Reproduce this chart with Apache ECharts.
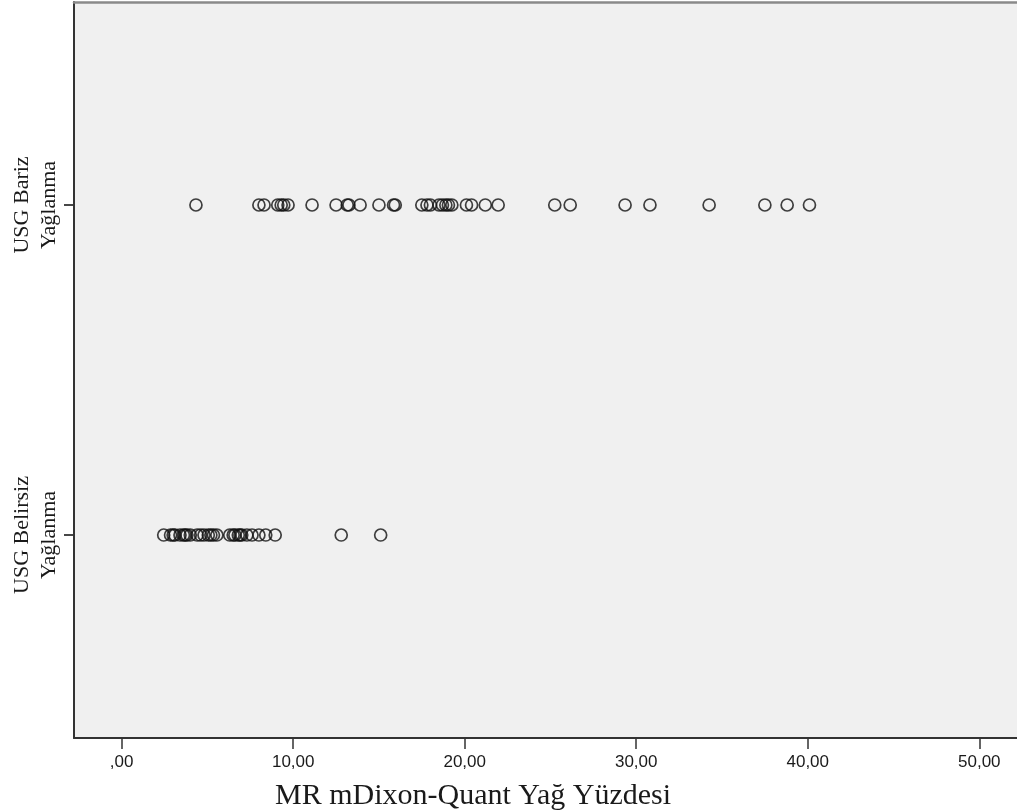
<!DOCTYPE html>
<html>
<head>
<meta charset="utf-8">
<script src="https://cdn.jsdelivr.net/npm/echarts@6/dist/echarts.min.js"></script>
<style>html,body{margin:0;padding:0;background:#fff;}#c{width:1017px;height:812px;}</style>
</head>
<body>
<div id="c"></div>
<script>
// Category labels (y axis)
const categories = ['USG Belirsiz\nYağlanma', 'USG Bariz\nYağlanma'];
// MR mDixon-Quant fat % for "USG Bariz Yağlanma"
const barizValues = [4.33, 8.0, 8.3, 9.1, 9.3, 9.45, 9.7, 11.1, 12.5, 13.15, 13.25, 13.9, 15.0, 15.85, 15.95,
  17.5, 17.8, 18.0, 18.5, 18.7, 18.9, 19.05, 19.25, 20.1, 20.4, 21.2, 21.95, 25.25, 26.15, 29.35, 30.8,
  34.25, 37.5, 38.8, 40.1];
// MR mDixon-Quant fat % for "USG Belirsiz Yağlanma"
const belirsizValues = [2.45, 2.85, 3.0, 3.1, 3.4, 3.6, 3.7, 3.8, 4.0, 4.4, 4.6, 4.8, 5.05, 5.2, 5.35, 5.55,
  6.3, 6.5, 6.6, 6.8, 6.9, 7.0, 7.3, 7.6, 8.0, 8.4, 8.95, 12.8, 15.1];
// X tick values and labels
const xTicks = [0, 10, 20, 30, 40, 50];
const xTickLabels = [',00', '10,00', '20,00', '30,00', '40,00', '50,00'];
const xTitle = 'MR mDixon-Quant Yağ Yüzdesi';

const chart = echarts.init(document.getElementById('c'), null, {renderer: 'canvas'});
const sym = {
  type: 'scatter', symbol: 'circle', symbolSize: 12,
  itemStyle: {color: 'rgba(0,0,0,0)', borderColor: '#111', borderWidth: 1.7},
  emphasis: {disabled: true}
};
const X_MIN = -2.78, X_MAX = 52.2;
chart.setOption({
  animation: false,
  backgroundColor: '#ffffff',
  title: {
    text: xTitle, left: 270, top: 776,
    textStyle: {fontFamily: 'Liberation Serif', fontWeight: 'normal', fontSize: 30, color: '#1a1a1a'}
  },
  grid: {
    left: 74, top: 2, right: 0, bottom: 74,
    show: true, backgroundColor: '#f0f0f0', borderWidth: 0
  },
  xAxis: [{
    type: 'value', min: X_MIN, max: X_MAX, position: 'bottom',
    splitLine: {show: false},
    axisLine: {show: true, onZero: false, lineStyle: {color: '#333', width: 2}},
    axisTick: {show: true, length: 11, customValues: xTicks, lineStyle: {color: '#333', width: 1.5}},
    axisLabel: {
      customValues: xTicks, margin: 16, fontFamily: 'Liberation Sans', fontSize: 17, color: '#1a1a1a',
      formatter: v => xTickLabels[xTicks.indexOf(Math.round(v))]
    }
  }, {
    type: 'value', min: X_MIN, max: X_MAX, position: 'top',
    splitLine: {show: false},
    axisLine: {show: true, onZero: false, lineStyle: {color: '#8a8a8a', width: 2.5}},
    axisTick: {show: false}, axisLabel: {show: false}
  }],
  yAxis: {
    type: 'value', min: 0.385, max: 2.615,
    splitLine: {show: false},
    axisLine: {show: true, onZero: false, lineStyle: {color: '#333', width: 2}},
    axisTick: {show: true, length: 10, customValues: [1, 2], lineStyle: {color: '#333', width: 1.8}},
    axisLabel: {
      customValues: [1, 2], rotate: 90, margin: 11,
      fontFamily: 'Liberation Serif', fontSize: 22, lineHeight: 27, color: '#1a1a1a',
      formatter: v => categories[Math.round(v) - 1]
    }
  },
  series: [
    Object.assign({}, sym, {name: categories[1], data: barizValues.map(v => [v, 2])}),
    Object.assign({}, sym, {name: categories[0], data: belirsizValues.map(v => [v, 1])})
  ]
});
</script>
</body>
</html>
